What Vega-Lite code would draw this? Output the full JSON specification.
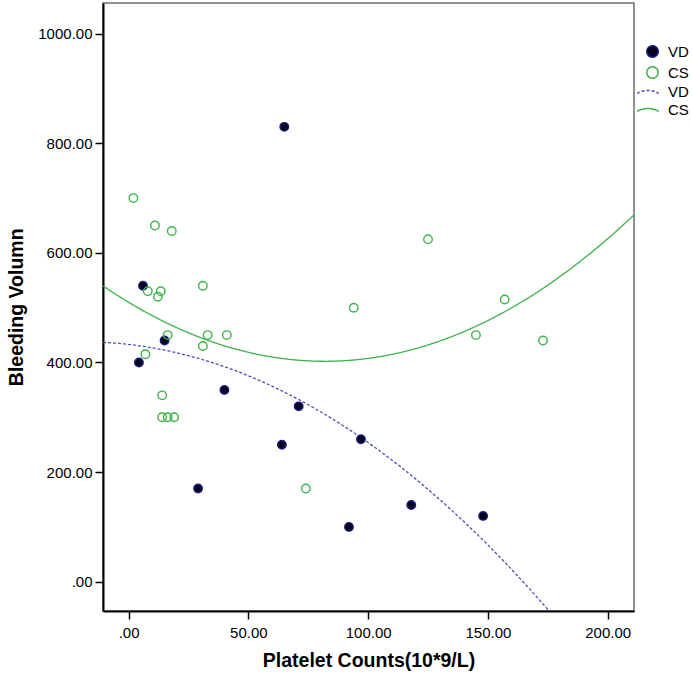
{
  "$schema": "https://vega.github.io/schema/vega-lite/v6.json",
  "width": 531,
  "height": 608,
  "autosize": "none",
  "padding": {"left": 103, "top": 3, "right": 58, "bottom": 68},
  "background": "#ffffff",
  "config": {
    "view": {"stroke": "#6e6e6e", "strokeWidth": 1.5},
    "axis": {
      "grid": false,
      "domainColor": "#000000",
      "domainWidth": 2,
      "tickColor": "#000000",
      "tickWidth": 1.5,
      "tickSize": 8,
      "labelFont": "Liberation Sans",
      "labelFontSize": 15,
      "labelColor": "#000000",
      "titleFont": "Liberation Sans",
      "titleFontSize": 19.5,
      "titleFontWeight": "bold",
      "titleColor": "#000000"
    }
  },
  "data": {
    "values": [
      {"platelet": 65, "volume": 830, "series": "VD", "fit": "VD fit"},
      {"platelet": 6, "volume": 540, "series": "VD", "fit": "VD fit"},
      {"platelet": 15, "volume": 440, "series": "VD", "fit": "VD fit"},
      {"platelet": 4.3, "volume": 400, "series": "VD", "fit": "VD fit"},
      {"platelet": 40, "volume": 350, "series": "VD", "fit": "VD fit"},
      {"platelet": 71, "volume": 320, "series": "VD", "fit": "VD fit"},
      {"platelet": 64, "volume": 250, "series": "VD", "fit": "VD fit"},
      {"platelet": 29, "volume": 170, "series": "VD", "fit": "VD fit"},
      {"platelet": 92, "volume": 100, "series": "VD", "fit": "VD fit"},
      {"platelet": 97, "volume": 260, "series": "VD", "fit": "VD fit"},
      {"platelet": 118, "volume": 140, "series": "VD", "fit": "VD fit"},
      {"platelet": 148, "volume": 120, "series": "VD", "fit": "VD fit"},
      {"platelet": 2, "volume": 700, "series": "CS", "fit": "CS fit"},
      {"platelet": 11, "volume": 650, "series": "CS", "fit": "CS fit"},
      {"platelet": 18, "volume": 640, "series": "CS", "fit": "CS fit"},
      {"platelet": 8, "volume": 530, "series": "CS", "fit": "CS fit"},
      {"platelet": 13.4, "volume": 530, "series": "CS", "fit": "CS fit"},
      {"platelet": 12.2, "volume": 520, "series": "CS", "fit": "CS fit"},
      {"platelet": 31, "volume": 540, "series": "CS", "fit": "CS fit"},
      {"platelet": 16.3, "volume": 450, "series": "CS", "fit": "CS fit"},
      {"platelet": 33, "volume": 450, "series": "CS", "fit": "CS fit"},
      {"platelet": 41, "volume": 450, "series": "CS", "fit": "CS fit"},
      {"platelet": 31, "volume": 430, "series": "CS", "fit": "CS fit"},
      {"platelet": 7, "volume": 415, "series": "CS", "fit": "CS fit"},
      {"platelet": 14, "volume": 340, "series": "CS", "fit": "CS fit"},
      {"platelet": 14, "volume": 300, "series": "CS", "fit": "CS fit"},
      {"platelet": 16.3, "volume": 300, "series": "CS", "fit": "CS fit"},
      {"platelet": 19, "volume": 300, "series": "CS", "fit": "CS fit"},
      {"platelet": 74, "volume": 170, "series": "CS", "fit": "CS fit"},
      {"platelet": 94, "volume": 500, "series": "CS", "fit": "CS fit"},
      {"platelet": 125, "volume": 625, "series": "CS", "fit": "CS fit"},
      {"platelet": 157, "volume": 515, "series": "CS", "fit": "CS fit"},
      {"platelet": 145, "volume": 450, "series": "CS", "fit": "CS fit"},
      {"platelet": 173, "volume": 440, "series": "CS", "fit": "CS fit"}
    ]
  },
  "encoding": {
    "x": {
      "field": "platelet",
      "type": "quantitative",
      "title": "Platelet Counts(10*9/L)",
      "scale": {"domain": [-10.7, 211], "nice": false, "zero": false},
      "axis": {
        "values": [0, 50, 100, 150, 200],
        "labelExpr": "datum.value == 0 ? '.00' : format(datum.value, '.2f')",
        "labelPadding": 6,
        "titleY": 55.7,
        "titleBaseline": "alphabetic"
      }
    },
    "y": {
      "field": "volume",
      "type": "quantitative",
      "title": "Bleeding Volumn",
      "scale": {"domain": [-53.5, 1056], "nice": false, "zero": false},
      "axis": {
        "values": [0, 200, 400, 600, 800, 1000],
        "labelExpr": "datum.value == 0 ? '.00' : format(datum.value, '.2f')",
        "labelPadding": 3,
        "titleX": -81,
        "titleY": 303.8,
        "titleBaseline": "alphabetic"
      }
    }
  },
  "layer": [
    {
      "transform": [
        {
          "regression": "volume",
          "on": "platelet",
          "groupby": ["fit"],
          "method": "poly",
          "order": 2,
          "extent": [-10.7, 211]
        }
      ],
      "mark": {"type": "line", "clip": true, "strokeWidth": 1.3},
      "encoding": {
        "stroke": {
          "field": "fit",
          "type": "nominal",
          "scale": {
            "domain": ["VD", "CS", "VD fit", "CS fit"],
            "range": ["#1c1c80", "#3cb44a", "#4a4fb5", "#3cb44a"]
          }
        },
        "strokeDash": {
          "field": "fit",
          "type": "nominal",
          "scale": {"domain": ["VD fit", "CS fit"], "range": [[3, 2], [1, 0]]},
          "legend": null
        }
      }
    },
    {
      "mark": {"type": "circle", "size": 72, "strokeWidth": 1.4, "opacity": 1},
      "encoding": {
        "stroke": {
          "field": "series",
          "type": "nominal",
          "scale": {
            "domain": ["VD", "CS", "VD fit", "CS fit"],
            "range": ["#1c1c80", "#3cb44a", "#4a4fb5", "#3cb44a"]
          },
          "legend": {
            "title": null,
            "orient": "none",
            "legendX": 542,
            "legendY": 41,
            "padding": 0,
            "symbolSize": 130,
            "symbolStrokeWidth": 1.5,
            "labelFont": "Liberation Sans",
            "labelFontSize": 15,
            "labelColor": "#000000",
            "labelOffset": 8,
            "rowPadding": 2,
            "labelExpr": "replace(datum.label, ' fit', '')",
            "encoding": {
              "symbols": {
                "shape": {"value": {"expr": "indexof(datum.value, 'fit') >= 0 ? 'M-2.7,0.35C-1.7,-0.35 0.1,-0.35 1.1,0.35' : 'circle'"}},
                "fill": {"value": {"expr": "datum.value == 'VD' ? '#04041e' : 'transparent'"}},
                "strokeDash": {"value": {"expr": "datum.value == 'VD fit' ? [3, 2] : [1, 0]"}},
                "opacity": {"value": 1}
              }
            }
          }
        },
        "fill": {
          "field": "series",
          "type": "nominal",
          "scale": {"domain": ["VD", "CS"], "range": ["#04041e", "transparent"]},
          "legend": null
        }
      }
    }
  ]
}
